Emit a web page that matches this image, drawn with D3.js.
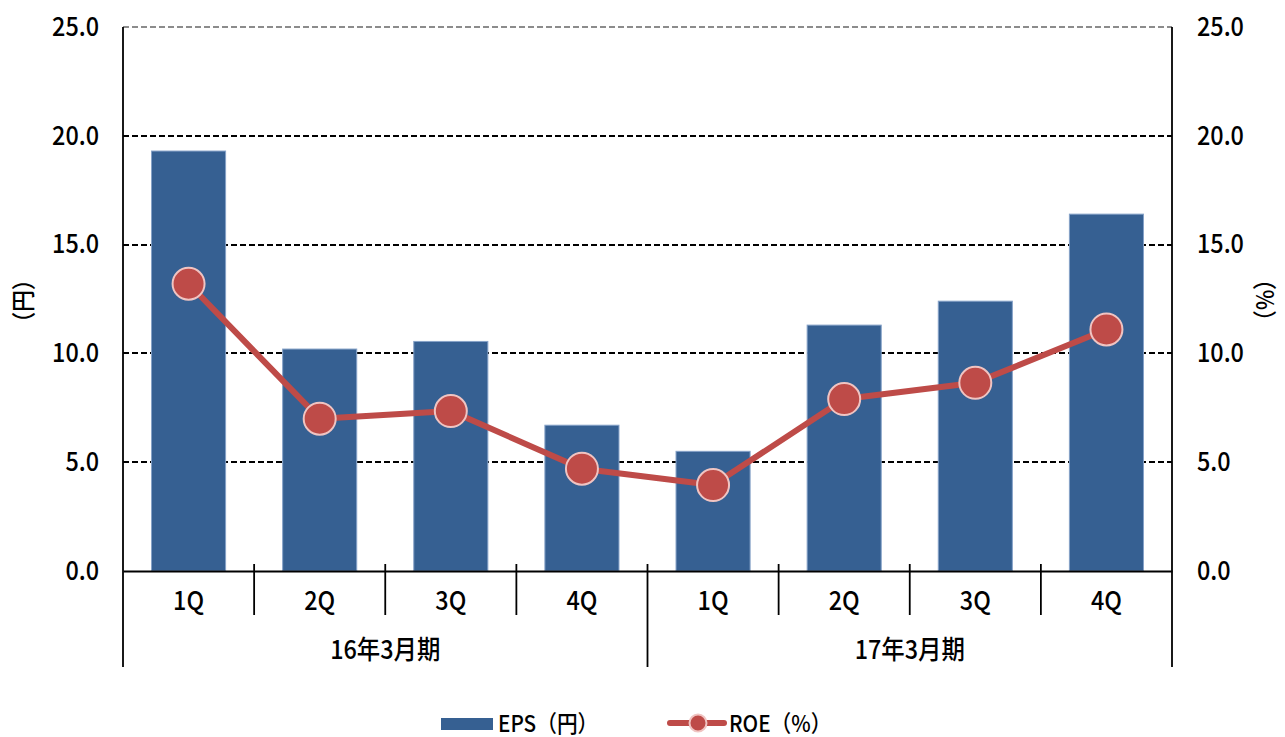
<!DOCTYPE html>
<html>
<head>
<meta charset="utf-8">
<script src="https://cdn.jsdelivr.net/npm/d3@7"></script>
<style>
  body { margin: 0; background: #fff; }
  svg text { font-family: 'Noto Sans CJK JP', 'Noto Sans', sans-serif; font-weight: 500; fill: #000; }
</style>
</head>
<body>
<svg id="chart" width="1285" height="737"></svg>
<script>
var quarters = ['1Q', '2Q', '3Q', '4Q', '1Q', '2Q', '3Q', '4Q'];
var periods = ['16年3月期', '17年3月期'];
var eps = [19.3, 10.2, 10.55, 6.7, 5.5, 11.3, 12.4, 16.4];
var roe = [13.2, 7.0, 7.35, 4.7, 3.95, 7.9, 8.65, 11.1];
var yTicks = [0, 5, 10, 15, 20, 25];

var margin = {left: 123, right: 113, top: 27, bottom: 166};
var width = 1285 - margin.left - margin.right;
var height = 737 - margin.top - margin.bottom;
var fs = 26, sx = 0.9;

var svg = d3.select('#chart');
var chart = svg.append('g')
	.attr('transform', 'translate(' + margin.left + ',' + margin.top + ')');

var x = d3.scaleBand().domain(d3.range(quarters.length)).range([0, width]).paddingInner(0.435).paddingOuter(0.2175);
var y = d3.scaleLinear().domain([0, 25]).range([height, 0]);
var y2 = d3.scaleLinear().domain([0, 25]).range([height, 0]);

// condensed text helper
function label(parent, px, py, str, anchor, rot, size) {
	var g = parent.append('g')
		.attr('transform', 'translate(' + px + ',' + py + ')' + (rot ? ' rotate(' + rot + ')' : ''));
	g.append('text')
		.attr('transform', 'scale(' + sx + ',1)')
		.attr('text-anchor', anchor || 'middle')
		.attr('font-size', size || fs)
		.text(str);
	return g;
}

// gridlines
chart.selectAll('line.grid')
	.data(yTicks.filter(function(d) { return d > 0; })).enter()
	.append('line')
	.attr('class', 'grid')
	.attr('x1', 0).attr('x2', width)
	.attr('y1', function(d) { return Math.round(y(d)); })
	.attr('y2', function(d) { return Math.round(y(d)); })
	.attr('stroke', function(d) { return d == 25 ? '#8c8c8c' : '#000'; })
	.attr('stroke-width', 2)
	.attr('shape-rendering', 'crispEdges')
	.attr('stroke-dasharray', '6,3');

// bars
chart.selectAll('rect.bar')
	.data(eps).enter()
	.append('rect')
	.attr('class', 'bar')
	.attr('x', function(d, i) { return x(i); })
	.attr('y', function(d) { return y(d); })
	.attr('width', x.bandwidth())
	.attr('height', function(d) { return height - y(d); })
	.attr('fill', '#366092')
	.attr('stroke', '#86a2c8')
	.attr('stroke-width', 1);

// left axis
var ya = chart.append('g')
	.call(d3.axisLeft(y).tickValues(yTicks).tickFormat(d3.format('.1f')).tickSize(0).tickPadding(0));
ya.select('.domain').remove();
ya.selectAll('text')
	.attr('font-size', fs)
	.attr('x', -24 / sx)
	.attr('transform', 'scale(' + sx + ',1)');

// right axis
var ya2 = chart.append('g')
	.attr('transform', 'translate(' + width + ',0)')
	.call(d3.axisRight(y2).tickValues(yTicks).tickFormat(d3.format('.1f')).tickSize(0).tickPadding(0));
ya2.select('.domain').remove();
ya2.selectAll('text')
	.attr('font-size', fs)
	.attr('x', 25 / sx)
	.attr('transform', 'scale(' + sx + ',1)');

// vertical frame lines
[0, width].forEach(function(px) {
	chart.append('line')
		.attr('x1', px).attr('x2', px)
		.attr('y1', 0).attr('y2', height + 96)
		.attr('stroke', '#000').attr('stroke-width', 1.8);
});

// bottom category axis
var xa = chart.append('g')
	.attr('transform', 'translate(0,' + height + ')')
	.call(d3.axisBottom(x).tickFormat(function(i) { return quarters[i]; }).tickSize(0).tickPadding(21));
xa.select('.domain').attr('stroke', '#000').attr('stroke-width', 1.8);
xa.selectAll('text')
	.attr('font-size', fs)
	.attr('transform', 'scale(' + sx + ',1)')
	.attr('x', 0);

// quarter separators
d3.range(1, quarters.length).forEach(function(i) {
	var px = x(i) - x.step() * x.paddingInner() / 2;
	var h = (i == 4) ? 96 : 44;
	chart.append('line')
		.attr('x1', px).attr('x2', px)
		.attr('y1', height - 7).attr('y2', height + h)
		.attr('stroke', '#000').attr('stroke-width', 1.8);
});

// period labels
periods.forEach(function(p, k) {
	var cx = width / 4 + k * width / 2;
	label(chart, cx, height + 88, p, 'middle');
});

// ROE line
var line = d3.line()
	.x(function(d, i) { return x(i) + x.bandwidth() / 2; })
	.y(function(d) { return y2(d); });

chart.append('path')
	.datum(roe)
	.attr('d', line)
	.attr('fill', 'none')
	.attr('stroke', '#be4b48')
	.attr('stroke-width', 6)
	.attr('stroke-linejoin', 'round');

chart.selectAll('circle.point')
	.data(roe).enter()
	.append('circle')
	.attr('class', 'point')
	.attr('cx', function(d, i) { return x(i) + x.bandwidth() / 2; })
	.attr('cy', function(d) { return y2(d); })
	.attr('r', 16)
	.attr('fill', '#be4b48')
	.attr('stroke', '#f0c4c2')
	.attr('stroke-width', 2);

// axis titles
label(svg, 32, 301, '（円）', 'middle', -90, 24);
label(svg, 1256, 300, '（%）', 'middle', 90, 24);

// legend
var lg = svg.append('g');
lg.append('rect')
	.attr('x', 441).attr('y', 718).attr('width', 52).attr('height', 12)
	.attr('fill', '#366092');
label(lg, 498, 732, 'EPS（円）', 'start', 0, 23);
lg.append('line')
	.attr('x1', 670).attr('x2', 724).attr('y1', 723).attr('y2', 723)
	.attr('stroke', '#be4b48').attr('stroke-width', 6).attr('stroke-linecap', 'round');
lg.append('circle')
	.attr('cx', 698).attr('cy', 723).attr('r', 8.5)
	.attr('fill', '#be4b48').attr('stroke', '#f0c4c2').attr('stroke-width', 2);
label(lg, 729, 732, 'ROE（%）', 'start', 0, 23);
</script>
</body>
</html>
